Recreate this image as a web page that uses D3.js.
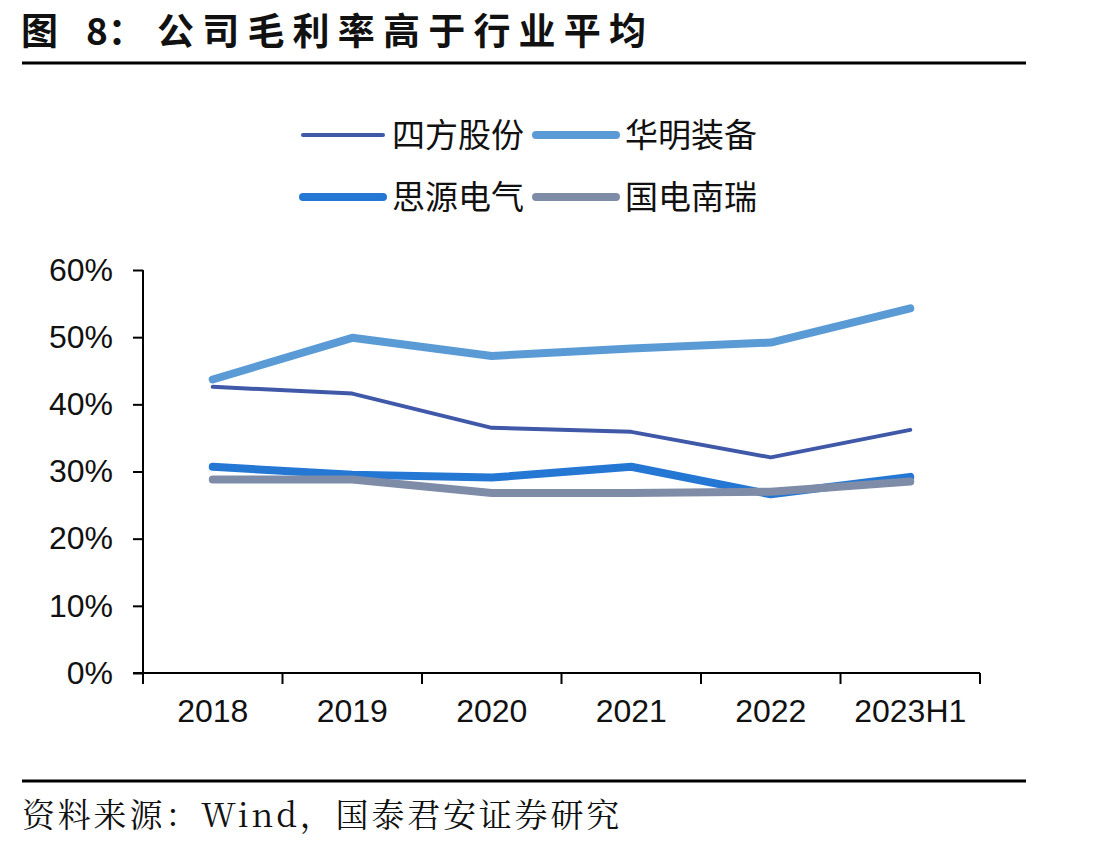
<!DOCTYPE html>
<html>
<head>
<meta charset="utf-8">
<script src="https://cdn.jsdelivr.net/npm/d3@7"></script>
<style>
  body { margin: 0; background: #fff; }
  svg text { fill: #111; }
</style>
</head>
<body>
<div id="chart"></div>
<script>
var categories = ["2018", "2019", "2020", "2021", "2022", "2023H1"];
var sifang = [42.6, 41.6, 36.5, 35.9, 32.1, 36.2];
var huaming = [43.7, 49.9, 47.2, 48.3, 49.2, 54.3];
var siyuan = [30.7, 29.5, 29.1, 30.7, 26.6, 29.2];
var nari = [28.8, 28.8, 26.8, 26.8, 27.0, 28.5];
var yTicks = [0, 10, 20, 30, 40, 50, 60];

var series = [
  {name: "四方股份", values: sifang, color: "#3f58a8", width: 4},
  {name: "华明装备", values: huaming, color: "#5b9bd5", width: 8},
  {name: "思源电气", values: siyuan, color: "#2478d4", width: 8},
  {name: "国电南瑞", values: nari, color: "#7f8ca8", width: 8}
];

var W = 1097, H = 847;
var svg = d3.select("#chart").append("svg")
    .attr("width", W)
    .attr("height", H);

// title, split so the spacing matches
var titleFont = "'Noto Sans CJK SC', sans-serif";
var title = svg.append("g").style("font-family", titleFont)
    .style("font-weight", "bold")
    .style("font-size", "37px");
title.append("text").attr("x", 21).attr("y", 45).text("图");
title.append("text").attr("x", 86).attr("y", 45).text("8：");
title.append("text").attr("x", 157).attr("y", 45)
    .style("letter-spacing", "8.2px")
    .text("公司毛利率高于行业平均");

svg.append("line")
    .attr("x1", 22).attr("x2", 1026)
    .attr("y1", 63).attr("y2", 63)
    .attr("stroke", "#000").attr("stroke-width", 3);

svg.append("line")
    .attr("x1", 22).attr("x2", 1026)
    .attr("y1", 781).attr("y2", 781)
    .attr("stroke", "#000").attr("stroke-width", 3);

svg.append("text")
    .attr("x", 22)
    .attr("y", 827)
    .style("font-family", "'Noto Serif CJK SC', 'Liberation Serif', serif")
    .style("font-size", "33px")
    .style("letter-spacing", "2.8px")
    .text("资料来源：Wind，国泰君安证券研究");

// scales
var x = d3.scaleBand()
    .domain(categories)
    .range([143, 980]);

var y = d3.scaleLinear()
    .domain([0, 60])
    .range([673, 270]);

// y axis
var yAxis = svg.append("g")
    .attr("transform", "translate(143,0)")
    .call(d3.axisLeft(y).tickValues(yTicks).tickSize(10).tickPadding(20)
      .tickFormat(function(d) { return d + "%"; }));

yAxis.selectAll("text")
    .style("font-family", "'Liberation Sans', Arial, sans-serif")
    .style("font-size", "32px");
yAxis.selectAll("line, path").attr("stroke", "#000").attr("stroke-width", 2);
yAxis.select(".domain").attr("d", "M0,270V673");

// x axis
var xAxis = svg.append("g")
    .attr("transform", "translate(0,673)")
    .call(d3.axisBottom(x).tickSize(0).tickPadding(26));

xAxis.select(".domain").attr("d", "M133,0H980").attr("stroke", "#000").attr("stroke-width", 2);
xAxis.selectAll("text")
    .style("font-family", "'Liberation Sans', Arial, sans-serif")
    .style("font-size", "32px");

// tick marks between categories
var bounds = categories.map(function(d) { return x(d); }).concat([x.range()[1]]);
xAxis.selectAll(".sep").data(bounds)
  .enter().append("line")
    .attr("class", "sep")
    .attr("x1", function(d) { return d; })
    .attr("x2", function(d) { return d; })
    .attr("y1", 0).attr("y2", 11)
    .attr("stroke", "#000").attr("stroke-width", 2);

// lines
var line = d3.line()
    .x(function(d, i) { return x(categories[i]) + x.bandwidth() / 2; })
    .y(function(d) { return y(d); });

var drawOrder = [series[1], series[0], series[2], series[3]];
drawOrder.forEach(function(s) {
  svg.append("path")
      .datum(s.values)
      .attr("d", line)
      .attr("fill", "none")
      .attr("stroke", s.color)
      .attr("stroke-width", s.width)
      .attr("stroke-linecap", "round")
      .attr("stroke-linejoin", "round");
});

// legend
var legendPos = [
  {x: 303, y: 135},
  {x: 536, y: 135},
  {x: 303, y: 197},
  {x: 536, y: 197}
];

var legend = svg.selectAll(".legend").data(series)
  .enter().append("g")
    .attr("class", "legend")
    .attr("transform", function(d, i) {
      return "translate(" + legendPos[i].x + "," + legendPos[i].y + ")";
    });

legend.append("line")
    .attr("x1", 0).attr("x2", 80)
    .attr("stroke", function(d) { return d.color; })
    .attr("stroke-width", function(d) { return d.width; })
    .attr("stroke-linecap", "round");

legend.append("text")
    .attr("x", 89)
    .attr("dy", "0.35em")
    .style("font-family", "'Noto Sans CJK SC', sans-serif")
    .style("font-size", "33px")
    .text(function(d) { return d.name; });
</script>
</body>
</html>
